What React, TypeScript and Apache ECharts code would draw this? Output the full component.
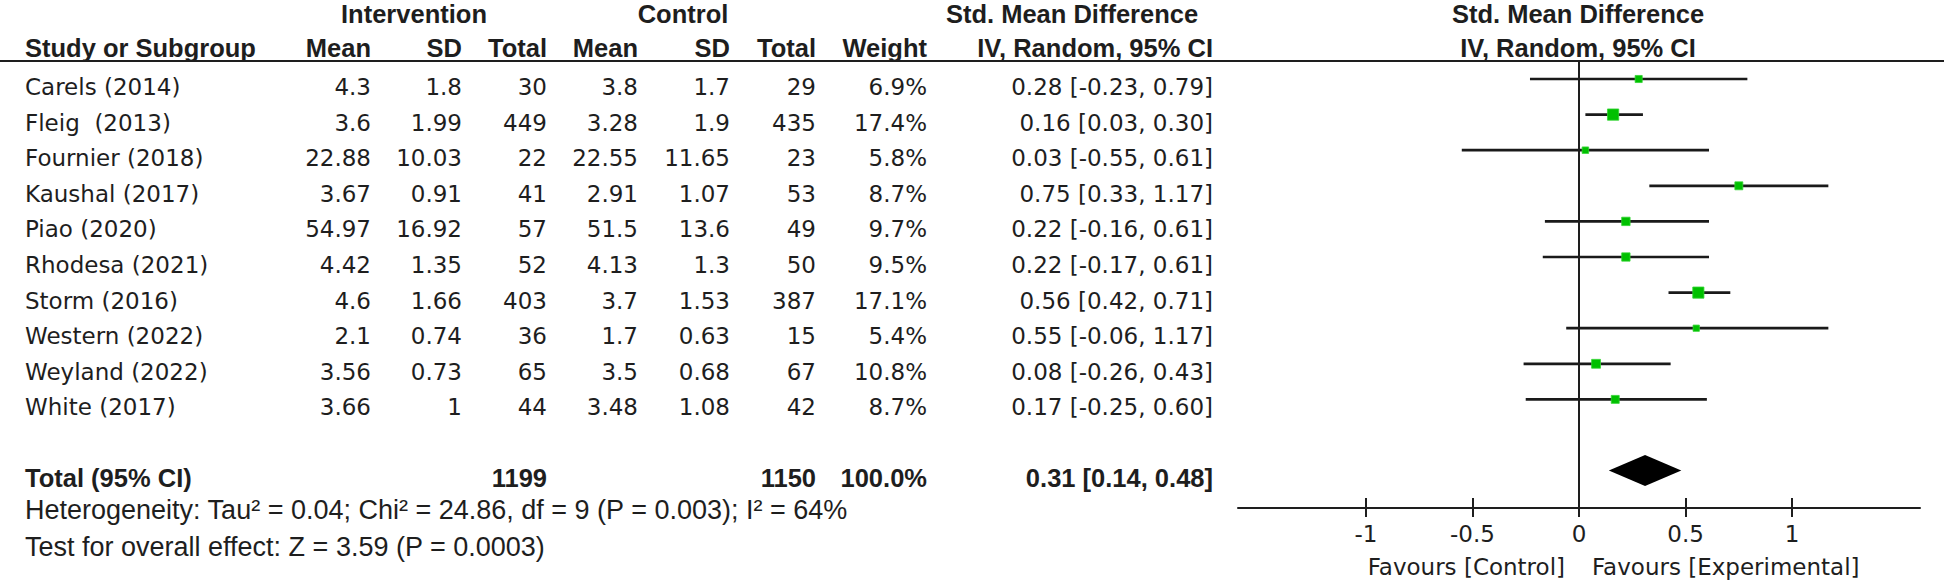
import React, { useEffect, useRef } from "react";
import * as echarts from "echarts";

// ---------- data ----------
const studies = [
  "Carels (2014)",
  "Fleig  (2013)",
  "Fournier (2018)",
  "Kaushal (2017)",
  "Piao (2020)",
  "Rhodesa (2021)",
  "Storm (2016)",
  "Western (2022)",
  "Weyland (2022)",
  "White (2017)",
];
const intMean = ["4.3", "3.6", "22.88", "3.67", "54.97", "4.42", "4.6", "2.1", "3.56", "3.66"];
const intSD = ["1.8", "1.99", "10.03", "0.91", "16.92", "1.35", "1.66", "0.74", "0.73", "1"];
const intTotal = [30, 449, 22, 41, 57, 52, 403, 36, 65, 44];
const ctlMean = ["3.8", "3.28", "22.55", "2.91", "51.5", "4.13", "3.7", "1.7", "3.5", "3.48"];
const ctlSD = ["1.7", "1.9", "11.65", "1.07", "13.6", "1.3", "1.53", "0.63", "0.68", "1.08"];
const ctlTotal = [29, 435, 23, 53, 49, 50, 387, 15, 67, 42];
const weights = [6.9, 17.4, 5.8, 8.7, 9.7, 9.5, 17.1, 5.4, 10.8, 8.7];
const smd = [0.28, 0.16, 0.03, 0.75, 0.22, 0.22, 0.56, 0.55, 0.08, 0.17];
const ciLow = [-0.23, 0.03, -0.55, 0.33, -0.16, -0.17, 0.42, -0.06, -0.26, -0.25];
const ciHigh = [0.79, 0.3, 0.61, 1.17, 0.61, 0.61, 0.71, 1.17, 0.43, 0.6];

const totalInt = 1199;
const totalCtl = 1150;
const totalWeight = 100.0;
const pooled = [0.31, 0.14, 0.48]; // estimate, low, high

const xTicks = [-1, -0.5, 0, 0.5, 1];
const heterogeneityText =
  "Heterogeneity: Tau\u00b2 = 0.04; Chi\u00b2 = 24.86, df = 9 (P = 0.003); I\u00b2 = 64%";
const overallText = "Test for overall effect: Z = 3.59 (P = 0.0003)";

// ---------- layout ----------
const W = 1944;
const H = 584;
const TOP = 61;
const AXIS_Y = 508;
const ROW0 = 79;
const ROW_H = 35.6;
const TEXT_DY = 8;
const TOTAL_ROW = 11;
const PLOT_L = 1238;
const PLOT_R = 1920;
const ZERO_X = (PLOT_L + PLOT_R) / 2;

const BOLD = "Liberation Sans, Arial, sans-serif";
const REG = "DejaVu Sans, sans-serif";
const FOOT = "Liberation Sans, Arial, sans-serif";
const INK = "#1e1e1e";

function txt(text: string, x: number, y: number, align: string, font: string, size: number, bold = false) {
  return {
    type: "text",
    x,
    y,
    silent: true,
    z: 10,
    style: {
      text,
      fill: INK,
      font: `${bold ? "bold " : ""}${size}px ${font}`,
      textAlign: align,
      textVerticalAlign: "middle",
    },
  };
}

export default function App() {
  const ref = useRef<HTMLDivElement>(null);

  useEffect(() => {
    if (!ref.current) return;
    const chart = echarts.init(ref.current, null, { renderer: "svg" });

    const yMin = -(ROW0 - TOP) / ROW_H;
    const yMax = yMin + (AXIS_Y - TOP) / ROW_H;

    const graphics: any[] = [];
    const h1 = 14;
    const h2 = 48;
    graphics.push(txt("Intervention", 414, h1, "center", BOLD, 25.5, true));
    graphics.push(txt("Control", 683, h1, "center", BOLD, 25.5, true));
    graphics.push(txt("Std. Mean Difference", 1072, h1, "center", BOLD, 25.5, true));
    graphics.push(txt("Std. Mean Difference", ZERO_X - 1, h1, "center", BOLD, 25.5, true));
    graphics.push(txt("Study or Subgroup", 25, h2, "left", BOLD, 25.5, true));
    graphics.push(txt("Mean", 371, h2, "right", BOLD, 25.5, true));
    graphics.push(txt("SD", 462, h2, "right", BOLD, 25.5, true));
    graphics.push(txt("Total", 547, h2, "right", BOLD, 25.5, true));
    graphics.push(txt("Mean", 638, h2, "right", BOLD, 25.5, true));
    graphics.push(txt("SD", 730, h2, "right", BOLD, 25.5, true));
    graphics.push(txt("Total", 816, h2, "right", BOLD, 25.5, true));
    graphics.push(txt("Weight", 927, h2, "right", BOLD, 25.5, true));
    graphics.push(txt("IV, Random, 95% CI", 1213, h2, "right", BOLD, 25.5, true));
    graphics.push(txt("IV, Random, 95% CI", ZERO_X - 1, h2, "center", BOLD, 25.5, true));
    // header underline
    graphics.push({
      type: "rect",
      silent: true,
      z: 10,
      shape: { x: 0, y: TOP - 1, width: W, height: 2 },
      style: { fill: INK },
    });
    // rows
    studies.forEach((s, i) => {
      const y = ROW0 + i * ROW_H + TEXT_DY;
      graphics.push(txt(s, 25, y, "left", REG, 23));
      graphics.push(txt(intMean[i], 371, y, "right", REG, 23));
      graphics.push(txt(intSD[i], 462, y, "right", REG, 23));
      graphics.push(txt(String(intTotal[i]), 547, y, "right", REG, 23));
      graphics.push(txt(ctlMean[i], 638, y, "right", REG, 23));
      graphics.push(txt(ctlSD[i], 730, y, "right", REG, 23));
      graphics.push(txt(String(ctlTotal[i]), 816, y, "right", REG, 23));
      graphics.push(txt(weights[i].toFixed(1) + "%", 927, y, "right", REG, 23));
      graphics.push(
        txt(
          `${smd[i].toFixed(2)} [${ciLow[i].toFixed(2)}, ${ciHigh[i].toFixed(2)}]`,
          1213,
          y,
          "right",
          REG,
          23
        )
      );
    });
    // total row
    const ty = ROW0 + TOTAL_ROW * ROW_H + 7;
    graphics.push(txt("Total (95% CI)", 25, ty, "left", BOLD, 25.5, true));
    graphics.push(txt(String(totalInt), 547, ty, "right", BOLD, 25.5, true));
    graphics.push(txt(String(totalCtl), 816, ty, "right", BOLD, 25.5, true));
    graphics.push(txt(totalWeight.toFixed(1) + "%", 927, ty, "right", BOLD, 25.5, true));
    graphics.push(
      txt(
        `${pooled[0].toFixed(2)} [${pooled[1].toFixed(2)}, ${pooled[2].toFixed(2)}]`,
        1213,
        ty,
        "right",
        BOLD,
        25.5,
        true
      )
    );
    graphics.push(txt(heterogeneityText, 25, 510, "left", FOOT, 27));
    graphics.push(txt(overallText, 25, 547, "left", FOOT, 27));
    graphics.push(txt("Favours [Control]", ZERO_X - 14, 567, "right", REG, 23));
    graphics.push(txt("Favours [Experimental]", ZERO_X + 13, 567, "left", REG, 23));

    const studyData = studies.map((_, i) => [i, smd[i], ciLow[i], ciHigh[i], weights[i]]);

    const option: any = {
      animation: false,
      backgroundColor: "#ffffff",
      grid: { left: PLOT_L, right: W - PLOT_R, top: TOP, height: AXIS_Y - TOP },
      xAxis: [
        {
          type: "value",
          min: -1.6,
          max: 1.6,
          position: "bottom",
          splitLine: { show: false },
          axisLine: { show: true, onZero: false, lineStyle: { color: INK, width: 2 } },
          axisTick: {
            show: true,
            customValues: xTicks,
            length: 9,
            lineStyle: { color: INK, width: 2 },
          },
          axisLabel: {
            show: true,
            customValues: xTicks,
            margin: 26,
            verticalAlign: "middle",
            color: INK,
            fontFamily: REG,
            fontSize: 23,
            formatter: (v: number) => String(v),
          },
        },
        {
          type: "value",
          min: -1.6,
          max: 1.6,
          position: "bottom",
          splitLine: { show: false },
          axisLine: { show: false, onZero: false },
          axisTick: {
            show: true,
            inside: true,
            customValues: xTicks,
            length: 10,
            lineStyle: { color: INK, width: 2 },
          },
          axisLabel: { show: false },
        },
      ],
      yAxis: {
        type: "value",
        inverse: true,
        min: yMin,
        max: yMax,
        show: false,
        axisLine: { onZero: false },
        splitLine: { show: false },
      },
      graphic: graphics,
      series: [
        {
          type: "custom",
          xAxisIndex: 0,
          encode: { x: [1, 2, 3], y: 0 },
          data: studyData,
          renderItem: (params: any, api: any) => {
            const row = api.value(0);
            const p = api.coord([api.value(1), row]);
            const lo = api.coord([api.value(2), row]);
            const hi = api.coord([api.value(3), row]);
            const s = 2.7 * Math.sqrt(api.value(4));
            return {
              type: "group",
              children: [
                {
                  type: "line",
                  shape: { x1: lo[0], y1: p[1], x2: hi[0], y2: p[1] },
                  style: { stroke: "#1a1a1a", lineWidth: 2.7 },
                },
                {
                  type: "rect",
                  shape: { x: p[0] - s / 2, y: p[1] - s / 2, width: s, height: s },
                  style: { fill: "#00c000", stroke: "#33d633", lineWidth: 0.8 },
                },
              ],
            };
          },
          markLine: {
            silent: true,
            symbol: "none",
            label: { show: false },
            lineStyle: { color: INK, width: 2, type: "solid" },
            data: [{ xAxis: 0 }],
          },
          z: 3,
        },
        {
          type: "custom",
          xAxisIndex: 0,
          encode: { x: [1, 2, 3], y: 0 },
          data: [[TOTAL_ROW, pooled[0], pooled[1], pooled[2]]],
          renderItem: (params: any, api: any) => {
            const row = api.value(0);
            const p = api.coord([api.value(1), row]);
            const lo = api.coord([api.value(2), row]);
            const hi = api.coord([api.value(3), row]);
            const hh = 15.5;
            return {
              type: "polygon",
              shape: {
                points: [
                  [lo[0], p[1]],
                  [p[0], p[1] - hh],
                  [hi[0], p[1]],
                  [p[0], p[1] + hh],
                ],
              },
              style: { fill: "#000000" },
            };
          },
          z: 4,
        },
      ],
    };

    chart.setOption(option);
    return () => chart.dispose();
  }, []);

  return (
    <div
      ref={ref}
      style={{ position: "fixed", left: 0, top: 0, width: W, height: H, background: "#fff" }}
    />
  );
}
